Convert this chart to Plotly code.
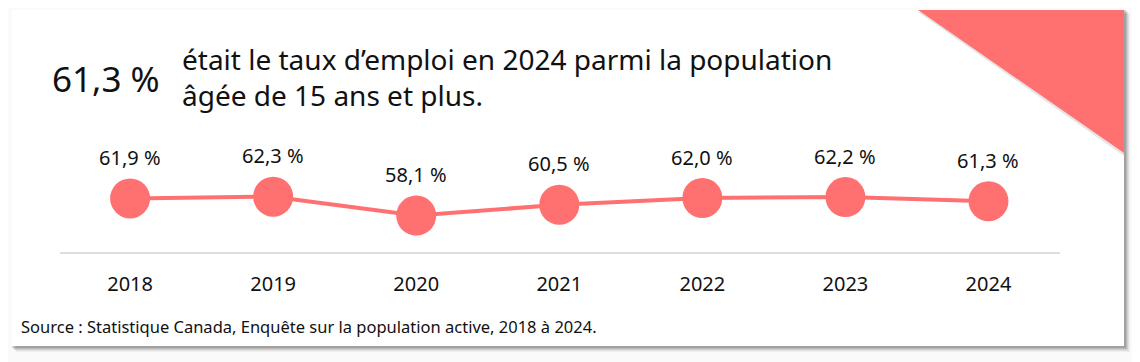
import plotly.graph_objects as go

years = ["2018", "2019", "2020", "2021", "2022", "2023", "2024"]
rates = [61.9, 62.3, 58.1, 60.5, 62.0, 62.2, 61.3]
labels = ["61,9 %", "62,3 %", "58,1 %", "60,5 %", "62,0 %", "62,2 %", "61,3 %"]

OFF = 8  # page body margin
W, H = 1140 - OFF, 362 - OFF
RED = "#FF7171"
FONT = "Noto Sans"

def px(x):
    return (x - OFF) / W

def py(y):
    return 1 - (y - OFF) / H

fig = go.Figure()
fig.add_trace(go.Scatter(
    x=years, y=rates, mode="lines+markers",
    line=dict(color=RED, width=4),
    marker=dict(size=40, color=RED),
    hoverinfo="skip", showlegend=False,
))

for i, (v, lab) in enumerate(zip(rates, labels)):
    fig.add_annotation(x=i, y=v, text=lab, showarrow=False, yshift=41,
                       font=dict(family=FONT, size=20, color="#111"))

shapes = []
# shadow
for i, op in enumerate([0.04, 0.06, 0.08, 0.10, 0.12]):
    off = 6 - i
    shapes.append(dict(type="rect", xref="paper", yref="paper",
                       x0=px(12 + off - 2), x1=px(1124 + off), y0=py(346 + off), y1=py(10 + off - 2),
                       fillcolor=f"rgba(0,0,0,{op})", line=dict(width=0), layer="below"))
# card
shapes.append(dict(type="rect", xref="paper", yref="paper",
                   x0=px(12), x1=px(1124), y0=py(346), y1=py(10),
                   fillcolor="white", line=dict(width=0), layer="below"))
# triangle shadow
shapes.append(dict(type="path", xref="paper", yref="paper",
                   path=f"M {px(918)},{py(12)} L {px(1124)},{py(12)} L {px(1124)},{py(156)} Z",
                   fillcolor="rgba(0,0,0,0.10)", line=dict(width=0), layer="below"))
shapes.append(dict(type="path", xref="paper", yref="paper",
                   path=f"M {px(918)},{py(10)} L {px(1124)},{py(10)} L {px(1124)},{py(153)} Z",
                   fillcolor=RED, line=dict(width=0), layer="below"))
fig.update_layout(shapes=shapes)

fig.add_annotation(xref="paper", yref="paper", x=px(50), y=py(78), xanchor="left", yanchor="middle",
                   text="61,3 %", showarrow=False, font=dict(family=FONT, size=35, color="#111"))
fig.add_annotation(xref="paper", yref="paper", x=px(180), y=py(77), xanchor="left", yanchor="middle",
                   text="était le taux d’emploi en 2024 parmi la population<br>âgée de 15 ans et plus.",
                   align="left", showarrow=False, font=dict(family=FONT, size=28, color="#111"))
fig.add_annotation(xref="paper", yref="paper", x=px(19), y=py(326), xanchor="left", yanchor="middle",
                   text="Source : Statistique Canada, Enquête sur la population active, 2018 à 2024.",
                   showarrow=False, font=dict(family=FONT, size=16.5, color="#111"))

fig.update_layout(
    width=W, height=H,
    margin=dict(l=0, r=0, t=0, b=0),
    paper_bgcolor="#FAFAFA",
    plot_bgcolor="rgba(0,0,0,0)",
    xaxis=dict(type="category", domain=[px(60), px(1060)], range=[-0.49, 6.5], showgrid=False,
               zeroline=False, showline=True, linecolor="#DDDDDD", linewidth=2, ticks="outside",
               ticklen=13, tickcolor="rgba(0,0,0,0)",
               tickfont=dict(family=FONT, size=20, color="#111"), fixedrange=True),
    yaxis=dict(domain=[py(252), py(130)], range=[50, 50 + 122 / 4.5], visible=False, fixedrange=True),
    font=dict(family=FONT),
)

fig.write_html("out.html", config={"displayModeBar": False})
